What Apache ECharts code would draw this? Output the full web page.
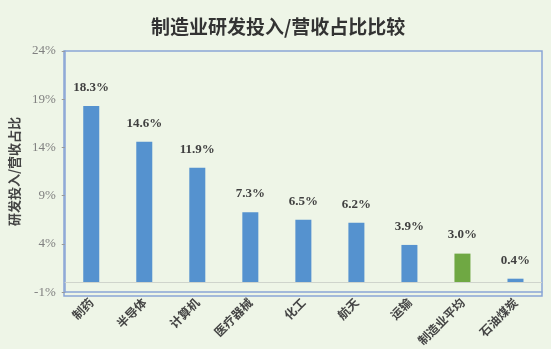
<!DOCTYPE html>
<html>
<head>
<meta charset="utf-8">
<script src="https://cdn.jsdelivr.net/npm/echarts@6/dist/echarts.min.js"></script>
<style>
    html, body { margin: 0; padding: 0; background: #eef5e7; }
    #main { width: 551px; height: 349px; }
</style>
</head>
<body>
<div id="main"></div>
<script>
var categories = ['制药', '半导体', '计算机', '医疗器械', '化工', '航天', '运输', '制造业平均', '石油煤炭'];
var values = [18.3, 14.6, 11.9, 7.3, 6.5, 6.2, 3.9, 3.0, 0.4];
var yTicks = [-1, 4, 9, 14, 19, 24];
var highlight = '制造业平均';

var chartDom = document.getElementById('main');
var myChart = echarts.init(chartDom);
var option;

var gridBox = { left: 64, right: 9, top: 51, bottom: 53 };

var barData = values.map(function (v, i) {
    return {
        value: v,
        itemStyle: { color: categories[i] === highlight ? '#6fa843' : '#5592cf' }
    };
});

option = {
    backgroundColor: '#eef5e7',
    animation: false,
    title: {
        text: '制造业研发投入/营收占比比较',
        left: 146,
        top: 12,
        textStyle: {
            fontFamily: 'Noto Sans CJK SC',
            fontSize: 19,
            fontWeight: 'bold',
            color: '#333'
        }
    },
    // plot frame
    graphic: [{
        type: 'rect',
        z: 0,
        shape: {
            x: gridBox.left,
            y: gridBox.top,
            width: 551 - gridBox.left - gridBox.right,
            height: 349 - gridBox.top - gridBox.bottom
        },
        style: { fill: 'none', stroke: '#8aa5d6', lineWidth: 1.5 }
    }],
    grid: gridBox,
    xAxis: {
        type: 'category',
        data: categories,
        axisLine: { onZero: false, lineStyle: { color: '#8aa5d6', width: 1.5 } },
        axisTick: { show: false },
        axisLabel: {
            interval: 0,
            rotate: 45,
            margin: 8,
            fontFamily: 'Noto Sans CJK SC',
            fontSize: 12,
            fontWeight: 'bold',
            color: '#444'
        }
    },
    yAxis: {
        type: 'value',
        min: yTicks[0],
        max: yTicks[yTicks.length - 1],
        name: '研发投入/营收占比',
        nameLocation: 'middle',
        nameGap: 33,
        nameRotate: 90,
        nameTextStyle: {
            fontFamily: 'Noto Sans CJK SC',
            fontSize: 13,
            fontWeight: 'bold',
            color: '#444'
        },
        axisLine: { show: true, lineStyle: { color: '#8aa5d6', width: 1.5 } },
        axisTick: {
            show: true,
            length: 3,
            customValues: yTicks,
            lineStyle: { color: '#999' }
        },
        splitLine: { show: false },
        axisLabel: {
            customValues: yTicks,
            margin: 9,
            fontFamily: 'Liberation Serif',
            fontSize: 13,
            color: '#808080',
            formatter: function (value) {
                return value + '%';
            }
        }
    },
    series: [{
        type: 'bar',
        barWidth: 16,
        data: barData,
        label: {
            show: true,
            position: 'top',
            distance: 12,
            fontFamily: 'Liberation Serif',
            fontSize: 13,
            fontWeight: 'bold',
            color: '#404040',
            formatter: function (p) {
                return p.value.toFixed(1) + '%';
            }
        },
        markLine: {
            silent: true,
            symbol: 'none',
            label: { show: false },
            lineStyle: { color: '#cfd4cc', type: 'solid', width: 1 },
            data: [{ yAxis: 0 }]
        }
    }]
};

option && myChart.setOption(option);

window.onresize = function () {
    myChart.resize();
};
</script>
</body>
</html>
